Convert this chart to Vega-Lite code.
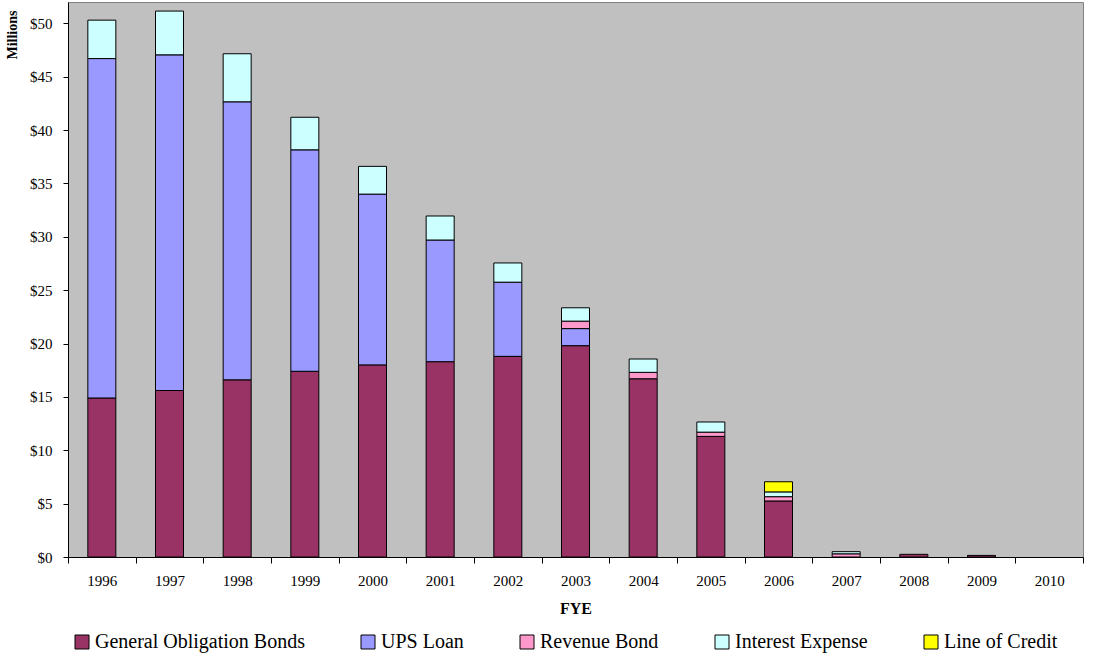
{
  "$schema": "https://vega.github.io/schema/vega-lite/v6.json",
  "autosize": {"type": "none"},
  "width": 1015,
  "height": 555,
  "padding": {"left": 68, "top": 2, "right": 16, "bottom": 99},
  "background": "white",
  "config": {
    "font": "Liberation Serif",
    "view": {"fill": "#C0C0C0", "stroke": "#808080", "strokeWidth": 1},
    "legend": {"labelFont": "Liberation Serif", "labelFontSize": 20, "labelColor": "black"},
    "axis": {"labelFont": "Liberation Serif", "titleFont": "Liberation Serif"}
  },
  "data": {"values": [
    {"year": "1996", "series": "General Obligation Bonds", "k": 1, "value": 14.9},
    {"year": "1996", "series": "UPS Loan", "k": 2, "value": 31.8},
    {"year": "1996", "series": "Interest Expense", "k": 4, "value": 3.6},
    {"year": "1997", "series": "General Obligation Bonds", "k": 1, "value": 15.6},
    {"year": "1997", "series": "UPS Loan", "k": 2, "value": 31.45},
    {"year": "1997", "series": "Interest Expense", "k": 4, "value": 4.1},
    {"year": "1998", "series": "General Obligation Bonds", "k": 1, "value": 16.6},
    {"year": "1998", "series": "UPS Loan", "k": 2, "value": 26.05},
    {"year": "1998", "series": "Interest Expense", "k": 4, "value": 4.5},
    {"year": "1999", "series": "General Obligation Bonds", "k": 1, "value": 17.4},
    {"year": "1999", "series": "UPS Loan", "k": 2, "value": 20.75},
    {"year": "1999", "series": "Interest Expense", "k": 4, "value": 3.05},
    {"year": "2000", "series": "General Obligation Bonds", "k": 1, "value": 18.0},
    {"year": "2000", "series": "UPS Loan", "k": 2, "value": 16.0},
    {"year": "2000", "series": "Interest Expense", "k": 4, "value": 2.6},
    {"year": "2001", "series": "General Obligation Bonds", "k": 1, "value": 18.3},
    {"year": "2001", "series": "UPS Loan", "k": 2, "value": 11.4},
    {"year": "2001", "series": "Interest Expense", "k": 4, "value": 2.25},
    {"year": "2002", "series": "General Obligation Bonds", "k": 1, "value": 18.8},
    {"year": "2002", "series": "UPS Loan", "k": 2, "value": 6.95},
    {"year": "2002", "series": "Interest Expense", "k": 4, "value": 1.8},
    {"year": "2003", "series": "General Obligation Bonds", "k": 1, "value": 19.8},
    {"year": "2003", "series": "UPS Loan", "k": 2, "value": 1.6},
    {"year": "2003", "series": "Revenue Bond", "k": 3, "value": 0.7},
    {"year": "2003", "series": "Interest Expense", "k": 4, "value": 1.25},
    {"year": "2004", "series": "General Obligation Bonds", "k": 1, "value": 16.7},
    {"year": "2004", "series": "Revenue Bond", "k": 3, "value": 0.6},
    {"year": "2004", "series": "Interest Expense", "k": 4, "value": 1.25},
    {"year": "2005", "series": "General Obligation Bonds", "k": 1, "value": 11.3},
    {"year": "2005", "series": "Revenue Bond", "k": 3, "value": 0.4},
    {"year": "2005", "series": "Interest Expense", "k": 4, "value": 0.95},
    {"year": "2006", "series": "General Obligation Bonds", "k": 1, "value": 5.25},
    {"year": "2006", "series": "Revenue Bond", "k": 3, "value": 0.4},
    {"year": "2006", "series": "Interest Expense", "k": 4, "value": 0.45},
    {"year": "2006", "series": "Line of Credit", "k": 5, "value": 0.95},
    {"year": "2007", "series": "Revenue Bond", "k": 3, "value": 0.3},
    {"year": "2007", "series": "Interest Expense", "k": 4, "value": 0.2},
    {"year": "2008", "series": "General Obligation Bonds", "k": 1, "value": 0.25},
    {"year": "2009", "series": "General Obligation Bonds", "k": 1, "value": 0.15}
  ]},
  "mark": {"type": "bar", "width": 28, "stroke": "black", "strokeWidth": 1},
  "encoding": {
    "x": {
      "field": "year", "type": "ordinal",
      "scale": {"domain": ["1996","1997","1998","1999","2000","2001","2002","2003","2004","2005","2006","2007","2008","2009","2010"], "paddingInner": 0, "paddingOuter": 0},
      "axis": {
        "title": "FYE", "titleFont": "Liberation Serif", "titleFontSize": 16, "titleFontWeight": "bold", "titleColor": "black", "titlePadding": 12,
        "labelAngle": 0, "labelFont": "Liberation Serif", "labelFontSize": 15, "labelColor": "black", "labelPadding": 10,
        "tickBand": "extent", "tickSize": 6, "tickColor": "black", "domainColor": "black", "grid": false
      }
    },
    "y": {
      "aggregate": "sum", "field": "value", "type": "quantitative", "stack": "zero",
      "scale": {"domain": [0, 52], "nice": false},
      "axis": {
        "title": "Millions", "titleFont": "Liberation Serif", "titleFontSize": 14, "titleFontWeight": "bold", "titleColor": "black",
        "titleAngle": -90, "titleAlign": "right", "titleBaseline": "middle", "titleX": -56, "titleY": 8,
        "values": [0,5,10,15,20,25,30,35,40,45,50], "format": "$.0f",
        "labelFont": "Liberation Serif", "labelFontSize": 15, "labelColor": "black", "labelPadding": 11,
        "tickSize": 5, "tickColor": "black", "domainColor": "black", "grid": false
      }
    },
    "color": {
      "field": "series", "type": "nominal",
      "scale": {
        "domain": ["General Obligation Bonds", "UPS Loan", "Revenue Bond", "Interest Expense", "Line of Credit"],
        "range": ["#993366", "#9999FF", "#FF99CC", "#CCFFFF", "#FFFF00"]
      },
      "legend": {
        "title": null, "orient": "none", "direction": "horizontal", "columns": 5,
        "legendX": 4, "legendY": 630,
        "symbolType": "square", "symbolSize": 196, "symbolStrokeColor": "black", "symbolStrokeWidth": 1, "symbolOpacity": 1,
        "labelFont": "Liberation Serif", "labelFontSize": 20, "labelColor": "black", "labelOffset": 3, "labelLimit": 400,
        "columnPadding": 53
      }
    },
    "order": {"field": "k", "type": "quantitative"}
  }
}
